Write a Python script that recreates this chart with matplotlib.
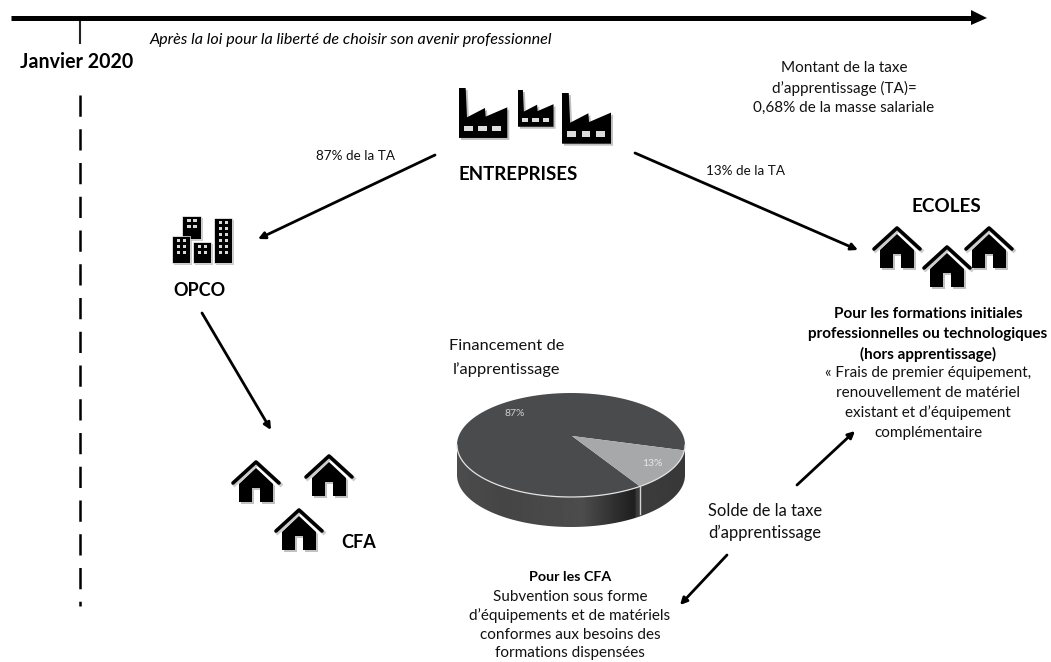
import numpy as np
import matplotlib
matplotlib.use("Agg")
import matplotlib.pyplot as plt
from matplotlib.patches import Polygon, Rectangle, FancyArrowPatch

plt.rcParams['font.family'] = ['Lato', 'DejaVu Sans']

pie_labels = ["87%", "13%"]
pie_values = [87, 13]
pie_colors = ["#4a4b4d", "#a7a8aa"]

bold_labels = [
    ("Janvier 2020", 77, 62, 14.1),
    ("ENTREPRISES", 518.5, 174, 13.4),
    ("OPCO", 199.5, 290, 13.0),
    ("ECOLES", 946, 207, 13.6),
    ("CFA", 359, 543, 13.0),
    ("Pour les formations initiales", 928, 314, 11.0),
    ("professionnelles ou technologiques", 928, 334, 11.0),
    ("(hors apprentissage)", 928, 354, 11.0),
    ("Pour les CFA", 570, 577, 10.3),
]
plain_labels = [
    ("Montant de la taxe", 844, 68, 11.0),
    ("d’apprentissage (TA)=", 844, 88, 11.0),
    ("0,68% de la masse salariale", 844, 108, 11.0),
    ("87% de la TA", 355, 156, 9.7),
    ("13% de la TA", 746, 171, 9.7),
    ("Financement de", 507, 346, 11.8),
    ("l’apprentissage", 506, 370, 11.8),
    ("« Frais de premier équipement,", 928, 373, 11.0),
    ("renouvellement de matériel", 928, 393, 11.0),
    ("existant et d’équipement", 928, 413, 11.0),
    ("complémentaire", 928, 433, 11.0),
    ("Solde de la taxe", 765, 511, 11.9),
    ("d’apprentissage", 765, 533, 11.9),
    ("Subvention sous forme", 570, 597, 11.0),
    ("d’équipements et de matériels", 570, 616, 11.0),
    ("conformes aux besoins des", 570, 635, 11.0),
    ("formations dispensées", 570, 653, 11.0),
]
italic_label = "Après la loi pour la liberté de choisir son avenir professionnel"

factories = [(459, 88, 0.333), (518, 90, 0.245), (562, 93, 0.338)]
houses = [(873, 226), (923, 245), (965, 226), (232, 460), (305, 454), (275, 508)]
arrows = [((435, 155), (258, 239)), ((635, 153), (858, 250)), ((202, 313), (271, 430)),
          ((797, 485), (855, 431)), ((727, 555), (680, 605))]

fig = plt.figure(figsize=(10.51, 6.62), dpi=100)
ax = fig.add_axes([0, 0, 1, 1])
ax.axis("off")


def poly(pts, color="black", z=3, alpha=1):
    ax.add_patch(Polygon(pts, closed=True, fc=color, ec="none", zorder=z, alpha=alpha))


def arrow(a, b, lw=2.0, ms=10):
    ax.add_patch(FancyArrowPatch(a, b, arrowstyle="-|>", mutation_scale=ms, lw=lw,
                                 color="black", shrinkA=0, shrinkB=0, zorder=4))


# timeline
ax.plot([11, 975], [18, 18], color="black", lw=3.6, zorder=3, solid_capstyle="butt")
poly([(971, 10), (987, 18), (971, 25)], z=4)
ax.plot([80, 80], [18, 43], color="#222222", lw=1.5)
ax.plot([80, 80], [95, 606], color="black", lw=1.8, dashes=(8.5, 5))

for a, b in arrows:
    arrow(a, b)


def factory(x0, y0, s):
    shape = np.array([(0, 0), (20, 0), (24, 88), (78, 60), (80, 86), (145, 58), (145, 150), (0, 150)], float)
    poly(shape * s + (x0 + 2, y0 + 2), "#999999", z=2, alpha=0.6)
    poly(shape * s + (x0, y0))
    for wx in (15, 58, 100):
        ax.add_patch(Rectangle((x0 + wx * s, y0 + 113 * s), 26 * s, 17 * s, fc="#dddddd", ec="none", zorder=4))


for f in factories:
    factory(*f)


def house(x0, y0):
    roof = np.array([(1, 23), (24, 2), (47, 23)], float) + (x0, y0)
    body = np.array([(7, 24), (24, 8), (41, 24), (41, 42), (28, 42), (28, 28), (20, 28), (20, 42), (7, 42)], float) + (x0, y0)
    poly(body + 2, "#999999", z=2, alpha=0.6)
    ax.plot(roof[:, 0] + 1.5, roof[:, 1] + 1.5, color="#aaaaaa", lw=3, zorder=2, alpha=0.6)
    ax.plot(roof[:, 0], roof[:, 1], color="black", lw=2.6, zorder=3, solid_capstyle="round")
    poly(body)


for h in houses:
    house(*h)

# OPCO buildings
buildings = [(182, 216, 19, 23), (172, 236, 18, 27), (193, 242, 18, 21), (214, 218, 18, 45)]
for bx, by, bw, bh in buildings:
    ax.add_patch(Rectangle((bx + 2, by + 2), bw, bh, fc="#aaaaaa", ec="none", alpha=0.6, zorder=2))
for bx, by, bw, bh in buildings:
    ax.add_patch(Rectangle((bx, by), bw, bh, fc="black", ec="white", lw=0.5, zorder=3))
    rows = int((bh - 6) // 6)
    for r in range(rows):
        for wx in (bx + bw * 0.28, bx + bw * 0.6):
            ax.add_patch(Rectangle((wx, by + 3 + r * 6), 3.2, 3.2, fc="#d8d8d8", ec="none", zorder=4))

# 3D pie
cx, cy, rx, ry, depth = 571, 445, 114, 52, 30
apex = (572, 436)
shares = np.array(pie_values, float) / sum(pie_values)
light_start = np.radians(-6)
light_end = light_start - shares[1] * 2 * np.pi


def rim(t0, t1, n=120, dy=0):
    t = np.linspace(t0, t1, n)
    return np.column_stack([cx + rx * np.cos(t), cy - ry * np.sin(t) + dy])


# side wall
front = rim(np.pi, 2 * np.pi)
side = np.vstack([front, front[::-1] + (0, depth)])
sp = Polygon(side, closed=True, fc="none", ec="none", zorder=2)
ax.add_patch(sp)
grad = np.interp(np.linspace(0, 1, 300), [0, 0.2, 0.55, 0.78, 0.79, 1],
                 [0.30, 0.27, 0.30, 0.12, 0.24, 0.22])
im = ax.imshow(np.tile(grad, (4, 1)), cmap="gray", vmin=0, vmax=1, aspect="auto",
               extent=(cx - rx, cx + rx, cy + ry + depth, cy), zorder=2)
im.set_clip_path(sp)

# top face
poly(np.vstack([[apex], rim(light_start, light_start + shares[0] * 2 * np.pi)]), pie_colors[0], z=3)
poly(np.vstack([[apex], rim(light_end, light_start)]), pie_colors[1], z=3)
# white edges
edge = rim(np.pi, 2 * np.pi)
ax.plot(edge[:, 0], edge[:, 1], color="#e2e2e2", lw=0.9, zorder=4)
px, py = rim(light_end, light_end, 1)[0]
ax.plot([px, px], [py, py + depth - 2], color="#d5d5d5", lw=1.0, zorder=4)
ax.text(515, 414, pie_labels[0], color="#d0d0d0", fontsize=7.5, ha="center", va="center", zorder=5)
ax.text(652, 463, pie_labels[1], color="#e8e8e8", fontsize=7.5, ha="center", va="center", zorder=5)

# texts
for s, x, y, fs in bold_labels:
    ax.text(x, y, s, fontsize=fs, fontweight="bold", ha="center", va="center", color="black", zorder=6)
for s, x, y, fs in plain_labels:
    ax.text(x, y, s, fontsize=fs, ha="center", va="center", color="#111111", zorder=6)
ax.text(150, 40, italic_label, fontsize=11.6, fontstyle="italic", ha="left", va="center", color="black", zorder=6)

ax.set_xlim(0, 1051)
ax.set_ylim(662, 0)
fig.savefig("out.png", dpi=100)
